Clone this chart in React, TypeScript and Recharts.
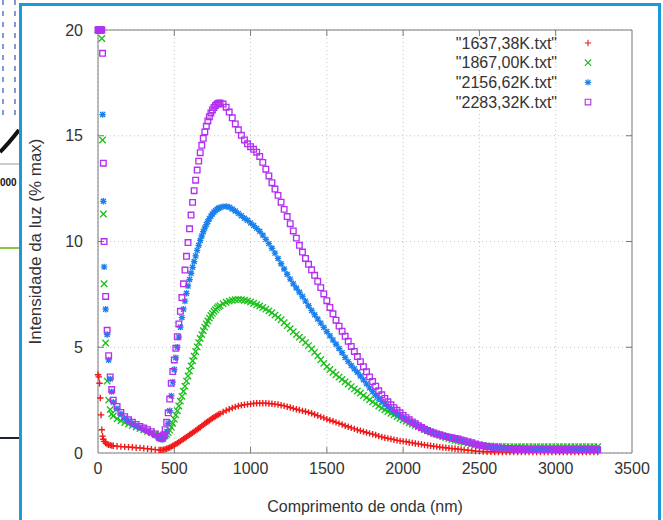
import React from 'react';
import {
  ScatterChart,
  Scatter,
  XAxis,
  YAxis,
  CartesianGrid,
  ReferenceLine,
  Legend,
} from 'recharts';

const FONT = '"Liberation Sans", Arial, Helvetica, sans-serif';

const RED = '#f01818';
const GREEN = '#1cc01c';
const BLUE = '#1a80ee';
const PURPLE = '#b430f0';

const SERIES_NAMES = ['"1637,38K.txt"', '"1867,00K.txt"', '"2156,62K.txt"', '"2283,32K.txt"'];

const X_TICKS = [0, 500, 1000, 1500, 2000, 2500, 3000, 3500];
const Y_TICKS = [0, 5, 10, 15, 20];

// wavelength samples (nm)
const WAVELENGTH = [
  0, 5, 10, 15, 20, 25, 30, 35, 40, 50, 60, 70, 80, 90,
  100, 125, 150, 175, 200, 225, 250, 275, 300, 325, 350, 375, 400,
  410, 420, 430, 440, 450, 460, 470, 480, 490, 500,
  510, 520, 530, 540, 550, 560, 570, 580, 590, 600,
  610, 620, 630, 640, 650, 660, 670, 680, 690, 700,
  710, 720, 730, 740, 750, 760, 770, 780, 790, 800,
  820, 840, 860, 880, 900, 920, 940, 960, 980, 1000,
  1020, 1040, 1060, 1080, 1100, 1120, 1140, 1160, 1180, 1200,
  1220, 1240, 1260, 1280, 1300, 1320, 1340, 1360, 1380, 1400,
  1420, 1440, 1460, 1480, 1500, 1520, 1540, 1560, 1580, 1600,
  1620, 1640, 1660, 1680, 1700, 1720, 1740, 1760, 1780, 1800,
  1820, 1840, 1860, 1880, 1900, 1920, 1940, 1960, 1980, 2000,
  2020, 2040, 2060, 2080, 2100, 2120, 2140, 2160, 2180, 2200,
  2220, 2240, 2260, 2280, 2300, 2320, 2340, 2360, 2380, 2400,
  2425, 2450, 2475, 2500, 2525, 2550, 2575, 2600, 2625, 2650,
  2675, 2700, 2725, 2750, 2775, 2800, 2825, 2850, 2875, 2900,
  2925, 2950, 2975, 3000, 3025, 3050, 3075, 3100, 3125, 3150,
  3175, 3200, 3225, 3250, 3275,
];

// "1637,38K.txt"
const T1637 = [
  3.7, 3.6, 3.3, 2.6, 1.8, 1.1, 0.8, 0.65, 0.55, 0.47, 0.42, 0.39, 0.37, 0.35,
  0.34, 0.32, 0.30, 0.29, 0.28, 0.27, 0.25, 0.24, 0.22, 0.20, 0.18, 0.16, 0.15,
  0.15, 0.15, 0.16, 0.18, 0.20, 0.23, 0.26, 0.30, 0.34, 0.38,
  0.42, 0.46, 0.51, 0.56, 0.61, 0.66, 0.71, 0.76, 0.81, 0.86,
  0.91, 0.96, 1.01, 1.06, 1.11, 1.17, 1.22, 1.28, 1.33, 1.38,
  1.44, 1.49, 1.54, 1.59, 1.64, 1.69, 1.73, 1.78, 1.82, 1.86,
  1.94, 2.01, 2.07, 2.13, 2.18, 2.22, 2.26, 2.28, 2.30, 2.32,
  2.34, 2.35, 2.35, 2.35, 2.35, 2.34, 2.33, 2.31, 2.29, 2.26,
  2.23, 2.19, 2.15, 2.11, 2.07, 2.03, 1.99, 1.96, 1.92, 1.88,
  1.82, 1.77, 1.71, 1.66, 1.60, 1.55, 1.50, 1.45, 1.40, 1.35,
  1.29, 1.24, 1.19, 1.14, 1.09, 1.05, 1.01, 0.97, 0.93, 0.89,
  0.85, 0.80, 0.76, 0.72, 0.69, 0.66, 0.63, 0.60, 0.57, 0.55,
  0.53, 0.50, 0.48, 0.45, 0.43, 0.41, 0.38, 0.36, 0.34, 0.32,
  0.30, 0.28, 0.26, 0.25, 0.23, 0.21, 0.20, 0.18, 0.17, 0.15,
  0.13, 0.11, 0.09, 0.08, 0.07, 0.06, 0.06, 0.05, 0.05, 0.05,
  0.05, 0.04, 0.05, 0.05, 0.05, 0.04, 0.05, 0.05, 0.05, 0.04,
  0.05, 0.05, 0.04, 0.05, 0.05, 0.05, 0.04, 0.05, 0.05, 0.05,
  0.04, 0.05, 0.05, 0.05, 0.05,
];

// "1867,00K.txt"
const T1867 = [
  20, 20, 20, 20, 20, 19.6, 14.8, 11.3, 8.0, 5.2, 3.4, 2.5, 2.05, 1.85,
  1.75, 1.62, 1.52, 1.44, 1.37, 1.30, 1.23, 1.16, 1.09, 1.02, 0.96, 0.90, 0.85,
  0.83, 0.81, 0.80, 0.82, 0.88, 0.97, 1.08, 1.22, 1.40, 1.60,
  1.80, 2.00, 2.22, 2.45, 2.68, 2.92, 3.16, 3.40, 3.64, 3.88,
  4.12, 4.36, 4.58, 4.80, 5.02, 5.22, 5.42, 5.60, 5.78, 5.95,
  6.10, 6.24, 6.38, 6.50, 6.60, 6.70, 6.78, 6.86, 6.92, 6.97,
  7.06, 7.13, 7.18, 7.22, 7.25, 7.26, 7.25, 7.22, 7.19, 7.14,
  7.08, 7.01, 6.95, 6.88, 6.80, 6.72, 6.63, 6.52, 6.41, 6.30,
  6.16, 6.02, 5.88, 5.74, 5.60, 5.48, 5.36, 5.22, 5.08, 4.92,
  4.76, 4.59, 4.41, 4.24, 4.08, 3.95, 3.82, 3.70, 3.59, 3.48,
  3.37, 3.26, 3.14, 3.03, 2.93, 2.83, 2.72, 2.62, 2.52, 2.42,
  2.32, 2.22, 2.13, 2.04, 1.96, 1.88, 1.80, 1.72, 1.64, 1.57,
  1.50, 1.43, 1.37, 1.30, 1.24, 1.18, 1.11, 1.05, 1.00, 0.94,
  0.88, 0.83, 0.78, 0.73, 0.68, 0.64, 0.60, 0.56, 0.53, 0.50,
  0.46, 0.43, 0.40, 0.38, 0.36, 0.34, 0.33, 0.32, 0.31, 0.31,
  0.30, 0.30, 0.30, 0.30, 0.30, 0.30, 0.30, 0.30, 0.30, 0.30,
  0.30, 0.30, 0.30, 0.30, 0.30, 0.30, 0.30, 0.30, 0.30, 0.30,
  0.30, 0.30, 0.30, 0.30, 0.30,
];

// "2156,62K.txt"
const T2156 = [
  20, 20, 20, 20, 20, 20, 16.0, 11.9, 8.8, 6.8, 5.6, 4.4, 3.5, 2.9,
  2.40, 2.10, 1.85, 1.65, 1.50, 1.38, 1.28, 1.19, 1.10, 1.02, 0.93, 0.83, 0.70,
  0.66, 0.64, 0.66, 0.78, 1.00, 1.40, 2.00, 2.70, 3.35, 3.95,
  4.50, 5.00, 5.48, 5.95, 6.40, 6.80, 7.18, 7.55, 7.90, 8.20,
  8.50, 8.78, 9.05, 9.32, 9.58, 9.82, 10.05, 10.26, 10.46, 10.64,
  10.80, 10.95, 11.08, 11.20, 11.30, 11.39, 11.46, 11.52, 11.57, 11.61,
  11.65, 11.66, 11.62, 11.54, 11.44, 11.33, 11.22, 11.10, 11.00, 10.88,
  10.76, 10.62, 10.48, 10.30, 10.10, 9.90, 9.68, 9.45, 9.20, 8.95,
  8.70, 8.45, 8.22, 8.00, 7.80, 7.60, 7.40, 7.18, 6.96, 6.74,
  6.54, 6.34, 6.14, 5.94, 5.74, 5.54, 5.34, 5.14, 4.94, 4.74,
  4.52, 4.32, 4.14, 3.98, 3.82, 3.64, 3.46, 3.27, 3.08, 2.90,
  2.73, 2.57, 2.44, 2.32, 2.20, 2.08, 1.96, 1.86, 1.76, 1.66,
  1.58, 1.50, 1.43, 1.36, 1.29, 1.22, 1.15, 1.09, 1.03, 0.97,
  0.91, 0.86, 0.82, 0.78, 0.74, 0.70, 0.66, 0.62, 0.58, 0.54,
  0.50, 0.45, 0.40, 0.36, 0.33, 0.30, 0.28, 0.26, 0.24, 0.23,
  0.22, 0.22, 0.21, 0.21, 0.21, 0.20, 0.20, 0.20, 0.20, 0.20,
  0.20, 0.20, 0.20, 0.20, 0.20, 0.20, 0.20, 0.20, 0.20, 0.20,
  0.20, 0.20, 0.20, 0.20, 0.20,
];

// "2283,32K.txt"
const T2283 = [
  20, 20, 20, 20, 20, 20, 18.9, 13.7, 10.0, 7.4, 5.8, 4.6, 3.6, 3.0,
  2.50, 2.20, 1.92, 1.72, 1.57, 1.45, 1.35, 1.26, 1.18, 1.10, 1.01, 0.90, 0.76,
  0.72, 0.74, 0.85, 1.10, 1.45, 1.90, 2.55, 3.30, 3.85, 4.40,
  4.95, 5.50, 6.10, 6.70, 7.35, 8.00, 8.65, 9.30, 9.95, 10.60,
  11.25, 11.85, 12.40, 12.90, 13.38, 13.80, 14.20, 14.55, 14.88, 15.18,
  15.45, 15.70, 15.90, 16.08, 16.22, 16.34, 16.43, 16.50, 16.54, 16.55,
  16.50, 16.35, 16.12, 15.85, 15.56, 15.28, 15.02, 14.80, 14.62, 14.48,
  14.36, 14.22, 14.02, 13.74, 13.42, 13.10, 12.78, 12.48, 12.18, 11.86,
  11.52, 11.18, 10.84, 10.50, 10.16, 9.82, 9.50, 9.20, 8.92, 8.66,
  8.40, 8.12, 7.82, 7.52, 7.20, 6.88, 6.58, 6.28, 6.00, 5.76,
  5.52, 5.28, 5.04, 4.80, 4.56, 4.32, 4.08, 3.84, 3.60, 3.38,
  3.16, 2.94, 2.75, 2.58, 2.42, 2.28, 2.14, 2.02, 1.90, 1.78,
  1.67, 1.57, 1.47, 1.38, 1.29, 1.21, 1.13, 1.06, 1.00, 0.95,
  0.90, 0.86, 0.82, 0.78, 0.75, 0.72, 0.69, 0.66, 0.62, 0.58,
  0.53, 0.48, 0.43, 0.38, 0.34, 0.31, 0.28, 0.26, 0.24, 0.22,
  0.21, 0.20, 0.19, 0.18, 0.18, 0.17, 0.17, 0.17, 0.16, 0.16,
  0.16, 0.16, 0.16, 0.15, 0.15, 0.15, 0.15, 0.15, 0.15, 0.15,
  0.15, 0.15, 0.15, 0.15, 0.15,
];

const toPoints = (ys: number[]) =>
  WAVELENGTH.map((x, i) => ({ x, y: ys[i] })).filter((p) => p.y != null);

type Kind = 'plus' | 'cross' | 'star' | 'square';

function markPath(kind: Kind, cx: number, cy: number) {
  const a = 3.2;
  const b = 2.5;
  const plus = `M${cx - a},${cy}H${cx + a}M${cx},${cy - a}V${cy + a}`;
  const cross = `M${cx - b},${cy - b}L${cx + b},${cy + b}M${cx - b},${cy + b}L${cx + b},${cy - b}`;
  if (kind === 'plus') return plus;
  if (kind === 'cross') return `M${cx - a},${cy - a}L${cx + a},${cy + a}M${cx - a},${cy + a}L${cx + a},${cy - a}`;
  if (kind === 'star') return plus + cross;
  return `M${cx - 2.8},${cy - 2.8}h5.6v5.6h-5.6Z`;
}

const makeShape = (kind: Kind, color: string) => (props: any) => {
  const { cx, cy } = props;
  if (cx == null || cy == null) return <g />;
  return <path d={markPath(kind, cx, cy)} stroke={color} strokeWidth={1.35} fill="none" />;
};

const SERIES = [
  { name: SERIES_NAMES[0], data: toPoints(T1637), color: RED, kind: 'plus' as Kind },
  { name: SERIES_NAMES[1], data: toPoints(T1867), color: GREEN, kind: 'cross' as Kind },
  { name: SERIES_NAMES[2], data: toPoints(T2156), color: BLUE, kind: 'star' as Kind },
  { name: SERIES_NAMES[3], data: toPoints(T2283), color: PURPLE, kind: 'square' as Kind },
];

const BORDER = '#7a7a7a';

function LegendBox() {
  return (
    <svg width={220} height={85}>
      {SERIES.map((s, i) => {
        const y = 13 + i * 19.7;
        return (
          <g key={s.name}>
            <text
              x={157}
              y={y}
              textAnchor="end"
              dominantBaseline="central"
              fontSize={16}
              fontFamily={FONT}
              fill="#333"
            >
              {s.name}
            </text>
            <path d={markPath(s.kind, 188, y)} stroke={s.color} strokeWidth={1.1} fill="none" />
          </g>
        );
      })}
    </svg>
  );
}

export default function App() {
  const tickStyle = { fill: '#333', fontSize: 16, fontFamily: FONT };
  return (
    <div style={{ position: 'absolute', left: 0, top: 0, width: 663, height: 520, background: '#fff' }}>
      <ScatterChart width={663} height={520} margin={{ top: 30, right: 31, bottom: 0, left: 0 }}>
        <CartesianGrid stroke="#c4c4c4" strokeDasharray="1 3" />
        <XAxis
          type="number"
          dataKey="x"
          domain={[0, 3500]}
          ticks={X_TICKS}
          height={67}
          tick={tickStyle}
          tickLine={false}
          tickSize={6}
          tickMargin={4}
          axisLine={{ stroke: BORDER }}
          label={{
            value: 'Comprimento de onda (nm)',
            position: 'insideBottom',
            offset: 8,
            fill: '#333',
            fontSize: 16,
            fontFamily: FONT,
          }}
        />
        <YAxis
          type="number"
          dataKey="y"
          domain={[0, 20]}
          ticks={Y_TICKS}
          width={98}
          tick={tickStyle}
          tickLine={false}
          tickSize={6}
          tickMargin={9}
          axisLine={{ stroke: BORDER }}
          label={{
            value: 'Intensidade da luz (% max)',
            angle: -90,
            position: 'insideLeft',
            offset: 35,
            fill: '#333',
            fontSize: 17,
            fontFamily: FONT,
            style: { textAnchor: 'middle' },
          }}
        />
        {SERIES.map((s) => (
          <Scatter
            key={s.name}
            name={s.name}
            data={s.data}
            shape={makeShape(s.kind, s.color)}
            isAnimationActive={false}
          />
        ))}
        <ReferenceLine y={20} stroke={BORDER} />
        <ReferenceLine x={3500} stroke={BORDER} />
        {X_TICKS.slice(1, -1).map((t) => (
          <ReferenceLine key={`xb${t}`} segment={[{ x: t, y: 0 }, { x: t, y: 0.28 }]} stroke={BORDER} />
        ))}
        {X_TICKS.slice(1, -1).map((t) => (
          <ReferenceLine key={`xt${t}`} segment={[{ x: t, y: 20 }, { x: t, y: 19.72 }]} stroke={BORDER} />
        ))}
        {Y_TICKS.slice(1, -1).map((t) => (
          <ReferenceLine key={`yl${t}`} segment={[{ x: 0, y: t }, { x: 40, y: t }]} stroke={BORDER} />
        ))}
        {Y_TICKS.slice(1, -1).map((t) => (
          <ReferenceLine key={`yr${t}`} segment={[{ x: 3500, y: t }, { x: 3460, y: t }]} stroke={BORDER} />
        ))}
        <Legend
          layout="horizontal"
          align="center"
          verticalAlign="middle"
          content={() => <LegendBox />}
          wrapperStyle={{ position: 'absolute', left: 400, top: 30, width: 220, height: 85 }}
        />
      </ScatterChart>

      {/* frame of the screenshot and bits of the neighbouring figure */}
      <svg
        width={663}
        height={520}
        style={{ position: 'absolute', left: 0, top: 0, pointerEvents: 'none' }}
      >
        <line x1={3} y1={0} x2={3} y2={120} stroke="#5a78c8" strokeWidth={1.5} strokeDasharray="5 6" />
        <line x1={15} y1={0} x2={15} y2={120} stroke="#5a78c8" strokeWidth={1.5} strokeDasharray="5 6" />
        <path d="M0,152 Q9,143 19,130" stroke="#111" strokeWidth={4} fill="none" />
        <line x1={0} y1={164} x2={20} y2={164} stroke="#999" strokeWidth={1} />
        <text x={0} y={186} fontSize={10} fontWeight="bold" fontFamily={FONT} fill="#111">
          000
        </text>
        <line x1={0} y1={248} x2={20} y2={248} stroke="#8cc63f" strokeWidth={2} />
        <line x1={0} y1={438} x2={20} y2={438} stroke="#1c2430" strokeWidth={2} />
        <path d="M20.5,525 V4.5 H659.5 V525" stroke="#1a9ad8" strokeWidth={3} fill="none" />
      </svg>
    </div>
  );
}
